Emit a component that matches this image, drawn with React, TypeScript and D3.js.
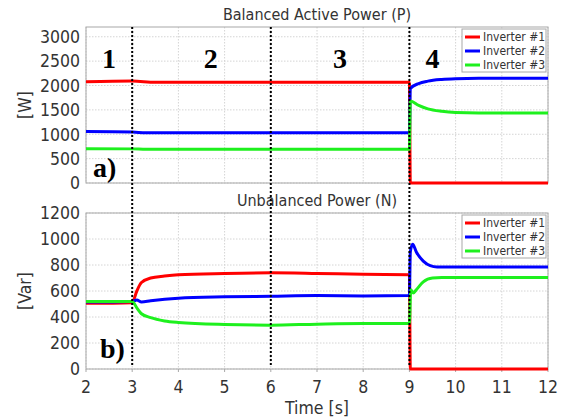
import React from 'react';
import * as d3 from 'd3';

// ---- data ----
const seriesNames = ['Inverter #1', 'Inverter #2', 'Inverter #3'];
const seriesColors = ['#ff0000', '#0000ff', '#1ef01e'];

const xTicks = [2, 3, 4, 5, 6, 7, 8, 9, 10, 11, 12];
const pTicks = [0, 500, 1000, 1500, 2000, 2500, 3000];
const nTicks = [0, 200, 400, 600, 800, 1000, 1200];
const phaseTimes = [3, 6, 9];
const phaseLabels = ['1', '2', '3', '4'];
const phaseLabelTimes = [2.5, 4.7, 7.5, 9.5];

// Balanced active power (P)
const tP1 = [2, 3, 3.5, 9, 9.02, 12];
const p1 = [2075, 2090, 2065, 2065, 0, 0];
const tP2 = [2, 3, 3.3, 9, 9.02, 9.2, 9.4, 9.7, 10, 10.5, 12];
const p2 = [1055, 1045, 1030, 1030, 1940, 2040, 2090, 2125, 2140, 2148, 2150];
const tP3 = [2, 3, 3.3, 9, 9.02, 9.2, 9.4, 9.7, 10, 10.5, 12];
const p3 = [705, 700, 690, 690, 1680, 1590, 1520, 1470, 1445, 1435, 1435];

// Unbalanced power (N)
const tN1 = [2, 3, 3.1, 3.2, 3.4, 3.7, 4, 5, 6, 7, 8, 9, 9.02, 12];
const n1 = [505, 510, 600, 665, 700, 715, 725, 735, 740, 735, 728, 725, 0, 0];
const tN2 = [2, 3, 3.1, 3.2, 3.4, 4, 5, 6, 7, 8, 9, 9.02, 9.07, 9.15, 9.3, 9.45, 9.6, 12];
const n2 = [515, 520, 530, 515, 525, 545, 555, 560, 565, 562, 565, 900, 960, 900, 830, 795, 785, 785];
const tN3 = [2, 3, 3.1, 3.2, 3.4, 3.7, 4, 5, 6, 7, 8, 9, 9.03, 9.08, 9.15, 9.3, 9.5, 9.7, 12];
const n3 = [520, 520, 470, 425, 395, 370, 358, 342, 337, 345, 350, 350, 610, 585, 610, 670, 700, 703, 703];

const W = 573;
const H = 419;
const left = 86;
const right = 548;
const topP = 27;
const bottomP = 183;
const topN = 213;
const bottomN = 369;
const font = '"DejaVu Sans Condensed", "DejaVu Sans", sans-serif';
const serif = '"Liberation Serif", serif';

const x = d3.scaleLinear().domain([2, 12]).range([left, right]);
const yP = d3.scaleLinear().domain([0, 3200]).range([bottomP, topP]);
const yN = d3.scaleLinear().domain([0, 1200]).range([bottomN, topN]);

const toPts = (ts: number[], vs: number[]) => ts.map((t, i) => [t, vs[i]] as [number, number]);

const Panel = ({ y, top, bottom, ticks, series, title, unit, tag, tagX, tagY, showX }) => {
    const line = d3.line<[number, number]>()
        .x(d => x(d[0]))
        .y(d => y(d[1]))
        .curve(d3.curveMonotoneX);
    return (
        <g>
            <text x={(left + right) / 2} y={top - 7} textAnchor="middle" fontFamily={font} fontStretch="condensed" fontSize={16} fill="#333">{title}</text>
            {/* grid */}
            {xTicks.map(t => (
                <line key={'gx' + t} x1={x(t)} x2={x(t)} y1={top} y2={bottom} stroke="#d4d4d4" strokeDasharray="1.5,1.5" />
            ))}
            {ticks.map(v => (
                <line key={'gy' + v} x1={left} x2={right} y1={y(v)} y2={y(v)} stroke="#d4d4d4" strokeDasharray="1.5,1.5" />
            ))}
            <rect x={left} y={top} width={right - left} height={bottom - top} fill="none" stroke="#a8a8a8" />
            {ticks.map(v => (
                <text key={'ty' + v} x={left - 6} y={y(v)} dy="0.36em" textAnchor="end" fontFamily={font} fontStretch="condensed" fontSize={17.5} fill="#333">{v}</text>
            ))}
            {showX && xTicks.map(t => (
                <g key={'tx' + t}>
                    <line x1={x(t)} x2={x(t)} y1={bottom} y2={bottom + 3} stroke="#a8a8a8" />
                    <text x={x(t)} y={bottom + 24} textAnchor="middle" fontFamily={font} fontStretch="condensed" fontSize={17.5} fill="#333">{t}</text>
                </g>
            ))}
            <text transform={`translate(31,${(top + bottom) / 2}) rotate(-90)`} textAnchor="middle" fontFamily={font} fontStretch="condensed" fontSize={17.5} fill="#333">{unit}</text>
            {series.map((s, i) => (
                <path key={'s' + i} d={line(s) || ''} fill="none" stroke={seriesColors[i]} strokeWidth={3} />
            ))}
            <text x={tagX} y={tagY} fontFamily={serif} fontWeight="bold" fontSize={28} fill="#000">{tag}</text>
            {/* legend */}
            <g transform={`translate(462,${top + 2})`}>
                <rect x={0} y={0} width={84} height={43} fill="#fff" stroke="#a8a8a8" />
                {seriesNames.map((n, i) => (
                    <g key={n} transform={`translate(0,${8 + i * 14})`}>
                        <line x1={3} x2={18} y1={0} y2={0} stroke={seriesColors[i]} strokeWidth={3} />
                        <text x={21} y={0} dy="0.36em" fontFamily={font} fontStretch="condensed" fontSize={12} fill="#333">{n}</text>
                    </g>
                ))}
            </g>
        </g>
    );
};

export default function App() {
    const pSeries = [toPts(tP1, p1), toPts(tP2, p2), toPts(tP3, p3)];
    const nSeries = [toPts(tN1, n1), toPts(tN2, n2), toPts(tN3, n3)];
    return (
        <svg width={W} height={H} style={{ position: 'absolute', left: 0, top: 0, background: '#fff' }}>
            <Panel y={yP} top={topP} bottom={bottomP} ticks={pTicks} series={pSeries}
                title="Balanced Active Power (P)" unit="[W]" tag="a)" tagX={93} tagY={177} showX={false} />
            <Panel y={yN} top={topN} bottom={bottomN} ticks={nTicks} series={nSeries}
                title="Unbalanced Power (N)" unit="[Var]" tag="b)" tagX={100} tagY={358} showX={true} />
            {phaseTimes.map(t => (
                <line key={'ph' + t} x1={x(t)} x2={x(t)} y1={topP} y2={bottomN - 3} stroke="#000" strokeWidth={2} strokeDasharray="2,2" />
            ))}
            {phaseLabels.map((l, i) => (
                <text key={'pl' + l} x={x(phaseLabelTimes[i])} y={68} textAnchor="middle" fontFamily={serif} fontWeight="bold" fontSize={28} fill="#000">{l}</text>
            ))}
            <text x={(left + right) / 2} y={414} textAnchor="middle" fontFamily={font} fontStretch="condensed" fontSize={17.5} fill="#333">Time [s]</text>
        </svg>
    );
}
